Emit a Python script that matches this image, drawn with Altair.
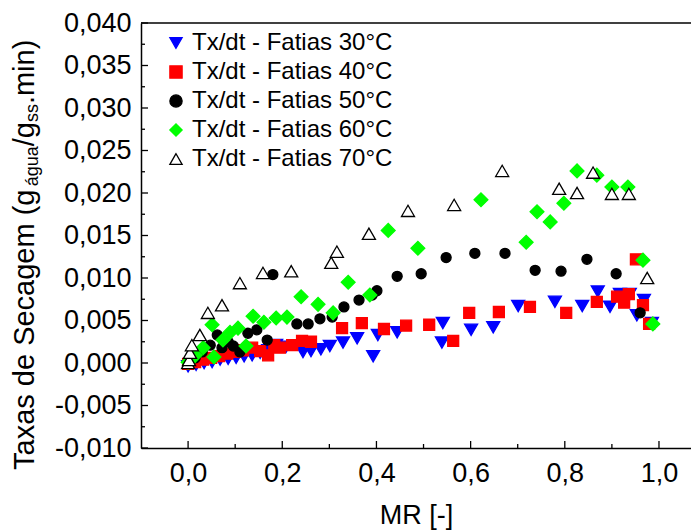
import altair as alt
import pandas as pd

FONT = "Liberation Sans"

names = ["Tx/dt - Fatias 30°C", "Tx/dt - Fatias 40°C", "Tx/dt - Fatias 50°C",
         "Tx/dt - Fatias 60°C", "Tx/dt - Fatias 70°C"]
shapes = ["triangle-down", "square", "circle", "diamond", "triangle-up"]
fills = ["#0000ff", "#ff0000", "#000000", "#00ff00", "#ffffff"]
strokes = ["#0000ff", "#ff0000", "#000000", "#00ff00", "#000000"]

# 30 °C
x30 = [0.0, 0.017, 0.034, 0.051, 0.068, 0.085, 0.102, 0.119, 0.136, 0.153, 0.170, 0.187,
       0.208, 0.244, 0.261, 0.282, 0.301, 0.329, 0.359, 0.393, 0.403, 0.444, 0.539, 0.541,
       0.601, 0.648, 0.701, 0.779, 0.837, 0.870, 0.896, 0.917, 0.938, 0.953, 0.968, 0.985]
y30 = [-0.0004, -0.0002, 0.0, 0.0001, 0.0004, 0.0005, 0.0006, 0.0008, 0.0009, 0.0012, 0.0015, 0.0021,
       0.0019, 0.0013, 0.0014, 0.0016, 0.0020, 0.0024, 0.0029, 0.0008, 0.0033, 0.0036, 0.0024, 0.0047,
       0.0039, 0.0042, 0.0067, 0.0072, 0.0067, 0.0084, 0.0066, 0.0081, 0.0081, 0.0056, 0.0074, 0.0047]
# 40 °C
x40 = [0.0, 0.015, 0.032, 0.049, 0.066, 0.083, 0.100, 0.117, 0.136, 0.153, 0.170, 0.183,
       0.195, 0.221, 0.242, 0.261, 0.327, 0.369, 0.416, 0.463, 0.512, 0.563, 0.597, 0.660,
       0.726, 0.803, 0.868, 0.911, 0.926, 0.936, 0.951, 0.966, 0.979]
y40 = [-0.0001, 0.0001, 0.0004, 0.0006, 0.0008, 0.0011, 0.0013, 0.0015, 0.0018, 0.0014, 0.0009, 0.0021,
       0.0018, 0.0021, 0.0026, 0.0025, 0.0041, 0.0047, 0.0040, 0.0044, 0.0045, 0.0026, 0.0059, 0.0060,
       0.0066, 0.0059, 0.0072, 0.0078, 0.0071, 0.0081, 0.0122, 0.0068, 0.0046]
# 50 °C
x50 = [0.0, 0.015, 0.030, 0.047, 0.062, 0.072, 0.085, 0.096, 0.110, 0.127, 0.146, 0.168,
       0.180, 0.231, 0.255, 0.280, 0.306, 0.331, 0.363, 0.391, 0.401, 0.444, 0.495, 0.548,
       0.609, 0.673, 0.737, 0.792, 0.847, 0.909, 0.960]
y50 = [0.0001, 0.0006, 0.0013, 0.0021, 0.0033, 0.0018, 0.0025, 0.0020, 0.0013, 0.0035, 0.0039, 0.0027,
       0.0104, 0.0046, 0.0046, 0.0052, 0.0054, 0.0066, 0.0074, 0.0080, 0.0085, 0.0102, 0.0105, 0.0124,
       0.0129, 0.0129, 0.0109, 0.0108, 0.0122, 0.0105, 0.0059]
# 60 °C
x60 = [0.0, 0.015, 0.032, 0.051, 0.055, 0.074, 0.089, 0.106, 0.123, 0.138, 0.161, 0.187,
       0.210, 0.240, 0.276, 0.308, 0.340, 0.386, 0.425, 0.488, 0.622, 0.718, 0.741, 0.769,
       0.798, 0.826, 0.868, 0.900, 0.934, 0.966, 0.987]
y60 = [0.0001, 0.0009, 0.0018, 0.0045, 0.0007, 0.0027, 0.0036, 0.0041, 0.0020, 0.0055, 0.0048, 0.0053,
       0.0054, 0.0078, 0.0069, 0.0059, 0.0095, 0.0080, 0.0156, 0.0135, 0.0192, 0.0142, 0.0178, 0.0166,
       0.0188, 0.0226, 0.0221, 0.0207, 0.0207, 0.0121, 0.0046]
# 70 °C
x70 = [0.0, 0.002, 0.004, 0.008, 0.025, 0.042, 0.072, 0.110, 0.159, 0.219, 0.304, 0.316,
       0.384, 0.467, 0.565, 0.667, 0.788, 0.826, 0.860, 0.900, 0.936, 0.975]
y70 = [0.0, 0.00035, 0.0012, 0.0021, 0.0033, 0.0059, 0.0068, 0.0094, 0.0106, 0.0108, 0.0118, 0.0131,
       0.0152, 0.0179, 0.0186, 0.0226, 0.0205, 0.0200, 0.0224, 0.0199, 0.0199, 0.0100]

xs = [x30, x40, x50, x60, x70]
ys = [y30, y40, y50, y60, y70]
marker_sizes = [170, 120, 100, 190, 170]

x_major = [0.0, 0.2, 0.4, 0.6, 0.8, 1.0]
x_minor = [0.1, 0.3, 0.5, 0.7, 0.9]
y_major = [-0.010, -0.005, 0.0, 0.005, 0.010, 0.015, 0.020, 0.025, 0.030, 0.035, 0.040]
y_minor = [-0.0075, -0.0025, 0.0025, 0.0075, 0.0125, 0.0175, 0.0225, 0.0275, 0.0325, 0.0375]

# y title pieces: (text, font size, is subscript)
title_parts = [("Taxas de Secagem (g", 29, False), ("água", 18, True), ("/g", 29, False),
               ("ss", 18, True), (".min)", 29, False)]

rows = []
for n, xx, yy in zip(names, xs, ys):
    for a, b in zip(xx, yy):
        rows.append({"serie": n, "MR": a, "Taxa": b})
df = pd.DataFrame(rows)

W, H = 550, 425
xscale = alt.Scale(domain=[-0.1, 1.068], nice=False, zero=False)
yscale = alt.Scale(domain=[-0.01, 0.04], nice=False, zero=False)

xaxis = alt.Axis(values=x_major, labelExpr="replace(format(datum.value, '.1f'), '.', ',')",
                 tickSize=0, labelPadding=12, labelFontSize=27, title="MR [-]", titleFontSize=27,
                 titleFontWeight="normal", titlePadding=16, grid=False, domainColor="black",
                 domainWidth=1.5, labelColor="black", titleColor="black")
yaxis = alt.Axis(values=y_major,
                 labelExpr="(datum.value < 0 ? '-' : '') + replace(format(abs(datum.value), '.3f'), '.', ',')",
                 tickSize=0, labelPadding=10, labelFontSize=27, title=None, grid=False,
                 domainColor="black", domainWidth=1.5, labelColor="black")

leg = alt.Legend(title=None, orient="none", legendX=23, legendY=8, labelFontSize=24,
                 symbolSize=150, labelOffset=4, rowPadding=5, padding=0, labelLimit=400,
                 labelColor="black", symbolStrokeWidth=1.3)

layers = []

# inward tick marks
layers.append(alt.Chart(pd.DataFrame({"v": y_major})).mark_rule(color="black", strokeWidth=1.3).encode(
    y=alt.Y("v:Q", scale=yscale, axis=yaxis), x=alt.value(0), x2=alt.value(7)))
layers.append(alt.Chart(pd.DataFrame({"v": y_minor})).mark_rule(color="black", strokeWidth=1.3).encode(
    y=alt.Y("v:Q", scale=yscale), x=alt.value(0), x2=alt.value(4)))
layers.append(alt.Chart(pd.DataFrame({"v": x_major})).mark_rule(color="black", strokeWidth=1.3).encode(
    x=alt.X("v:Q", scale=xscale, axis=xaxis), y=alt.value(H), y2=alt.value(H - 7)))
layers.append(alt.Chart(pd.DataFrame({"v": x_minor})).mark_rule(color="black", strokeWidth=1.3).encode(
    x=alt.X("v:Q", scale=xscale), y=alt.value(H), y2=alt.value(H - 4)))

one = pd.DataFrame({"k": [0]})
# top frame line
layers.append(alt.Chart(one).mark_rule(color="black", strokeWidth=1.5).encode(
    x=alt.value(0), x2=alt.value(W), y=alt.value(0)))

for n, s in zip(names, marker_sizes):
    layers.append(
        alt.Chart(df).transform_filter(alt.datum.serie == n)
        .mark_point(size=s, opacity=1, strokeWidth=1.3)
        .encode(
            x=alt.X("MR:Q", scale=xscale, axis=xaxis),
            y=alt.Y("Taxa:Q", scale=yscale, axis=yaxis),
            shape=alt.Shape("serie:N", scale=alt.Scale(domain=names, range=shapes), legend=leg),
            fill=alt.Fill("serie:N", scale=alt.Scale(domain=names, range=fills), legend=leg),
            stroke=alt.Stroke("serie:N", scale=alt.Scale(domain=names, range=strokes), legend=leg),
        )
    )

# rotated y-axis title with subscripts
widths = {"T": .611, "a": .556, "x": .5, "s": .5, " ": .278, "d": .556, "e": .556, "S": .667,
          "c": .5, "g": .556, "m": .833, "(": .333, ")": .333, "á": .556, "u": .556, "/": .278,
          ".": .278, "i": .222, "n": .556}
pos = 447.0
for txt, fs, sub in title_parts:
    layers.append(alt.Chart(one).mark_text(angle=270, align="left", baseline="middle",
                                           fontSize=fs, color="black", font=FONT).encode(
        x=alt.value(-108 if sub else -116), y=alt.value(pos), text=alt.value(txt)))
    pos -= sum(widths.get(ch, .556) for ch in txt) * fs

chart = alt.layer(*layers).properties(
    width=W, height=H,
    autosize=alt.AutoSizeParams(type="none"),
    padding={"left": 141, "top": 23, "right": 0, "bottom": 83},
).configure_view(stroke=None).configure_axis(labelFont=FONT, titleFont=FONT).configure_legend(
    labelFont=FONT).configure_text(font=FONT)

chart.save("out.html", embed_options={"renderer": "svg", "actions": False})
